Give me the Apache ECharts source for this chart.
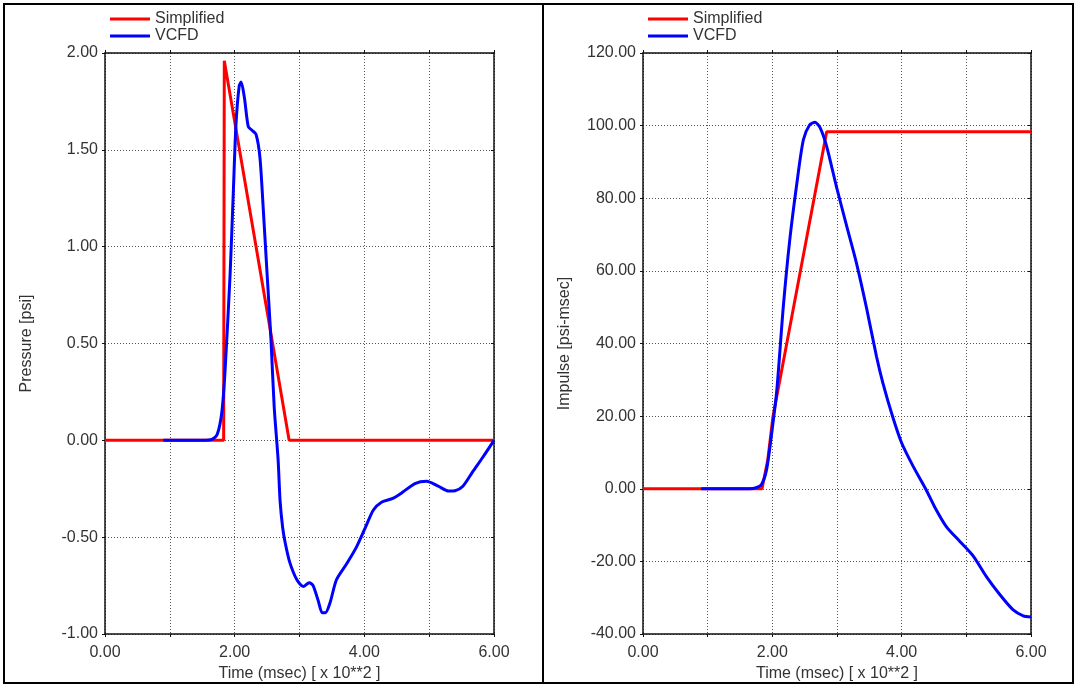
<!DOCTYPE html>
<html>
<head>
<meta charset="utf-8">
<script src="https://cdn.jsdelivr.net/npm/echarts@6/dist/echarts.min.js"></script>
<style>
html, body { margin: 0; padding: 0; background: #fff; }
#chart { width: 1075px; height: 685px; }
</style>
</head>
<body>
<div id="chart"></div>
<script>
// time axis is in units of 100 msec
const seriesNames = ['Simplified', 'VCFD']

const pressureSimplified = [[0, 0], [1.83, 0], [1.84, 1.96], [2.84, 0], [6, 0]]
const pressureVcfd = [
	[0.9, 0], [1.55, 0], [1.65, 0.005], [1.73, 0.03], [1.80, 0.14], [1.85, 0.35],
	[1.93, 0.86], [1.98, 1.29], [2.02, 1.63], [2.07, 1.83], [2.10, 1.85], [2.15, 1.77],
	[2.21, 1.62], [2.27, 1.60], [2.33, 1.58], [2.39, 1.46], [2.44, 1.20], [2.50, 0.86],
	[2.56, 0.52], [2.61, 0.17], [2.67, -0.10], [2.70, -0.31], [2.74, -0.45], [2.78, -0.53],
	[2.85, -0.63], [2.96, -0.72], [3.06, -0.755], [3.15, -0.735], [3.21, -0.75], [3.29, -0.83],
	[3.35, -0.89], [3.40, -0.89], [3.47, -0.84], [3.57, -0.72], [3.73, -0.636], [3.88, -0.55],
	[4.01, -0.455], [4.14, -0.36], [4.27, -0.318], [4.44, -0.30], [4.60, -0.266], [4.78, -0.223],
	[4.96, -0.211], [5.14, -0.237], [5.30, -0.262], [5.40, -0.26], [5.52, -0.237], [5.67, -0.163],
	[5.83, -0.086], [6.0, 0]
]

const impulseSimplified = [[0, 0], [1.84, 0], [1.93, 8], [2.01, 19.9], [2.84, 98.3], [6, 98.3]]
const impulseVcfd = [
	[0.9, 0], [1.65, 0], [1.75, 0.3], [1.83, 1.1], [1.91, 5.2], [1.99, 15.3], [2.07, 27.3],
	[2.17, 50.2], [2.27, 68.6], [2.38, 84.2], [2.48, 96.1], [2.58, 100.3], [2.66, 100.9],
	[2.74, 99.4], [2.84, 94.3], [2.99, 83.3], [3.15, 72.3], [3.30, 62.2], [3.46, 49.5],
	[3.61, 36.5], [3.71, 29.1], [3.86, 19.9], [4.0, 12.6], [4.18, 6.1], [4.37, 0],
	[4.51, -5.0], [4.69, -10.4], [4.90, -14.5], [5.11, -18.6], [5.31, -24.2], [5.52, -29.2],
	[5.72, -33.3], [5.88, -35.0], [6.0, -35.3]
]

const xName = 'Time (msec) [ x 10**2 ]'
const yNames = ['Pressure [psi]', 'Impulse [psi-msec]']

const font = 'Liberation Sans, Arial, sans-serif'
const textColor = '#333'
const gridLine = { show: true, lineStyle: { color: '#555', width: 1, type: [1, 2] } }
const axisLine = { show: true, onZero: false, lineStyle: { color: '#111', width: 1.5 } }

function xMain(gridIndex) {
	return {
		type: 'value', gridIndex, min: 0, max: 6, interval: 1,
		name: xName, nameLocation: 'middle', nameGap: 30,
		nameTextStyle: { fontFamily: font, fontSize: 16, color: textColor },
		axisLine, axisTick: { show: true, length: 3, lineStyle: { color: '#111' } },
		axisLabel: {
			fontFamily: font, fontSize: 16, color: textColor, margin: 11,
			formatter: v => (v % 2 === 0 ? v.toFixed(2) : '')
		},
		splitLine: gridLine
	}
}
function xTop(gridIndex) {
	return {
		type: 'value', gridIndex, position: 'top', min: 0, max: 6, interval: 1,
		axisLine, axisTick: { show: true, length: 3, lineStyle: { color: '#111' } },
		axisLabel: { show: false }, splitLine: { show: false }
	}
}
function yMain(gridIndex, min, max, interval, name) {
	return {
		type: 'value', gridIndex, min, max, interval,
		name, nameLocation: 'middle', nameGap: 70,
		nameTextStyle: { fontFamily: font, fontSize: 16, color: textColor },
		axisLine, axisTick: { show: true, length: 3, lineStyle: { color: '#111' } },
		axisLabel: { fontFamily: font, fontSize: 16, color: textColor, margin: 7, formatter: v => v.toFixed(2) },
		splitLine: gridLine
	}
}
function yRight(gridIndex, min, max, interval) {
	return {
		type: 'value', gridIndex, position: 'right', min, max, interval,
		axisLine, axisTick: { show: true, inside: true, length: 3, lineStyle: { color: '#111' } },
		axisLabel: { show: false }, splitLine: { show: false }
	}
}
function line(name, data, color, xAxisIndex, yAxisIndex, smooth) {
	return {
		name, type: 'line', data, xAxisIndex, yAxisIndex,
		symbol: 'none', smooth, animation: false,
		lineStyle: { color, width: 3 }, itemStyle: { color }
	}
}
function legendAt(left) {
	return {
		orient: 'vertical', left, top: 6, itemWidth: 40, itemHeight: 3, itemGap: 1,
		icon: 'rect', data: seriesNames,
		textStyle: { fontFamily: font, fontSize: 16, color: textColor, lineHeight: 14 },
		selectedMode: false
	}
}

const chart = echarts.init(document.getElementById('chart'), null, { renderer: 'canvas' })
chart.setOption({
	backgroundColor: '#fff',
	animation: false,
	graphic: [
		{ type: 'rect', shape: { x: 4, y: 4, width: 539, height: 679 }, style: { fill: 'none', stroke: '#000', lineWidth: 2 } },
		{ type: 'rect', shape: { x: 543, y: 4, width: 530, height: 679 }, style: { fill: 'none', stroke: '#000', lineWidth: 2 } }
	],
	legend: [legendAt(105), legendAt(643)],
	grid: [
		{ left: 105, top: 53, width: 389, height: 581, outerBoundsMode: 'none' },
		{ left: 643, top: 53, width: 388, height: 581, outerBoundsMode: 'none' }
	],
	xAxis: [xMain(0), xMain(1), xTop(0), xTop(1)],
	yAxis: [
		yMain(0, -1, 2, 0.5, yNames[0]),
		yMain(1, -40, 120, 20, yNames[1]),
		yRight(0, -1, 2, 0.5),
		yRight(1, -40, 120, 20)
	],
	series: [
		line(seriesNames[0], pressureSimplified, '#ff0000', 0, 0, false),
		line(seriesNames[1], pressureVcfd, '#0000ff', 0, 0, 0.25),
		line(seriesNames[0], impulseSimplified, '#ff0000', 1, 1, false),
		line(seriesNames[1], impulseVcfd, '#0000ff', 1, 1, 0.25)
	]
})
</script>
</body>
</html>
